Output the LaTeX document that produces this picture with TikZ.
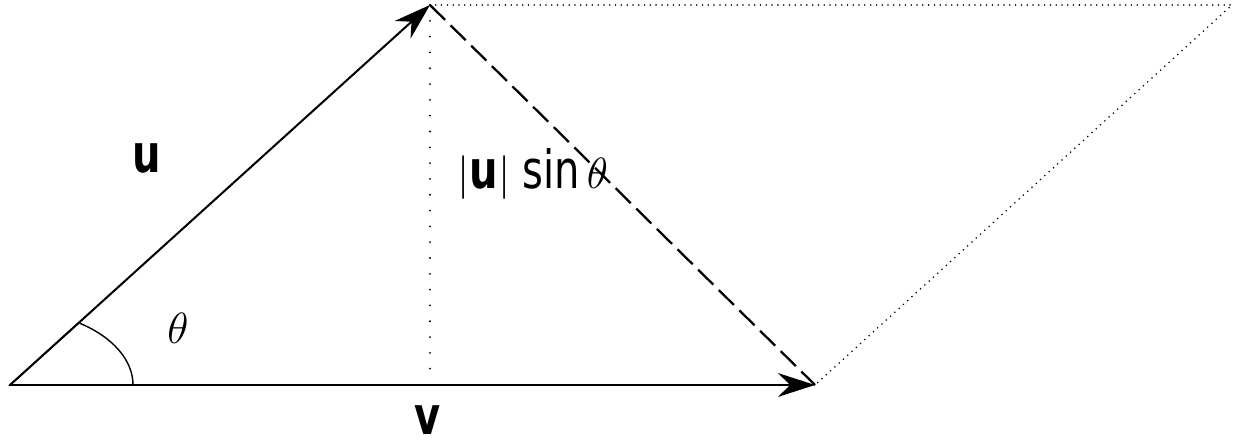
\documentclass[tikz,border=0pt]{standalone}
\usepackage{fontspec}
\setsansfont{DejaVu Sans}
\usetikzlibrary{arrows.meta}

% narrow sans letters, as in the figure
\newcommand{\nsf}[1]{\scalebox{0.76}[1]{\textsf{#1}}}

\begin{document}
\begin{tikzpicture}[
    x=0.02cm, y=0.02cm, line cap=round,
    vec/.style    ={line width=1.15pt, -{Stealth[length=21pt, width=13.5pt]}},
    proj/.style   ={line width=1.3pt, dash pattern=on 12pt off 4.5pt, line cap=butt},
    drop/.style   ={line width=1.2pt, dash pattern=on 0pt off 9pt},
    frame/.style  ={line width=1pt, dash pattern=on 0pt off 3.3pt},
    lab/.style    ={font=\fontsize{30}{34}\selectfont, inner sep=0pt}
]
\useasboundingbox (0,0) rectangle (1235,440);

% corners of the parallelogram
\coordinate (O) at (10,55);
\coordinate (V) at (815,55);
\coordinate (U) at (430,435);
\coordinate (W) at (1232,435);
\coordinate (F) at (430,69);

% angle sector
\draw[line width=0.8pt] (O) -- (133,55) arc[start angle=0, end angle=56, x radius=123, y radius=75] -- cycle;

% vectors
\draw[vec] (O) -- (U);
\draw[vec] (O) -- (V);

% height and difference
\draw[drop] (U) -- (F);
\draw[proj] (U) -- (V);

% rest of the parallelogram
\draw[frame] (U) -- (W) -- (V);

% labels
\node[lab] (ulab) at (147,282) {\nsf{\bfseries u}};
\node[lab, anchor=north] (vlab) at (428,35) {\nsf{\bfseries v}};
\node[lab, font=\fontsize{26}{30}\selectfont] (thlab) at (178,112) {$\theta$};
\node[lab, anchor=west] (hlab) at (457,266) {$|\nsf{\bfseries u}|\;\nsf{sin}\,\theta$};
\end{tikzpicture}
\end{document}
